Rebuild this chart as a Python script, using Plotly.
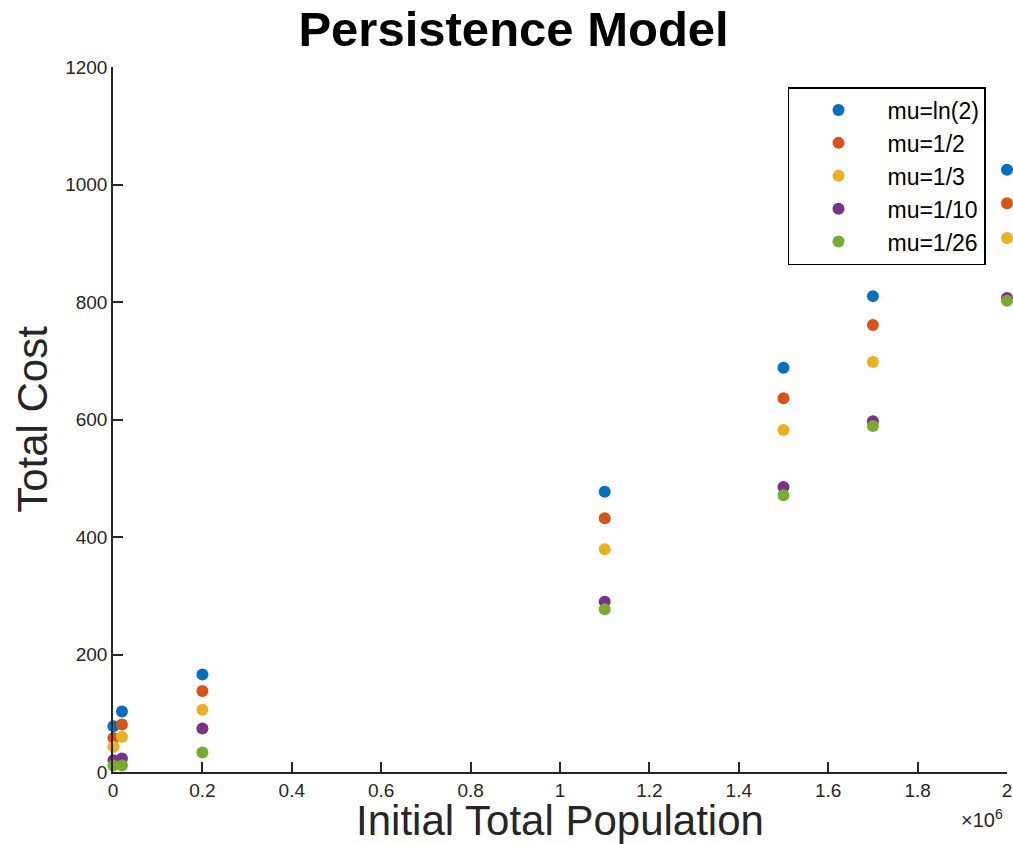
import plotly.graph_objects as go

population = [1000, 20000, 200000, 1100000, 1500000, 1700000, 2000000]
series_names = ["mu=ln(2)", "mu=1/2", "mu=1/3", "mu=1/10", "mu=1/26"]
cost_ln2 = [78, 103, 166, 477, 688, 810, 1025]
cost_half = [58, 81, 138, 432, 636, 761, 968]
cost_third = [43, 60, 106, 379, 582, 698, 909]
cost_tenth = [20, 23, 74, 290, 485, 597, 807]
cost_26th = [11, 11, 33, 277, 471, 589, 802]
colors = ["#0072BD", "#D95319", "#EDB120", "#7E2F8E", "#77AC30"]

x_tickvals = [0, 200000, 400000, 600000, 800000, 1000000, 1200000, 1400000, 1600000, 1800000, 2000000]
x_ticktext = ["0", "0.2", "0.4", "0.6", "0.8", "1", "1.2", "1.4", "1.6", "1.8", "2"]
y_tickvals = [0, 200, 400, 600, 800, 1000, 1200]

font_family = "Liberation Sans, Arial, Helvetica, sans-serif"
axis_color = "#262626"

fig = go.Figure()
for name, vals, col in zip(series_names, [cost_ln2, cost_half, cost_third, cost_tenth, cost_26th], colors):
    fig.add_trace(go.Scatter(
        x=population, y=vals, mode="markers", name=name, cliponaxis=False,
        marker=dict(color=col, size=12, line=dict(width=0)),
    ))

fig.update_layout(
    width=1013, height=844,
    margin=dict(l=113, r=6, t=67, b=72, autoexpand=False),
    paper_bgcolor="white", plot_bgcolor="white",
    font=dict(family=font_family, color=axis_color),
    title=dict(text="<b>Persistence Model</b>", x=0.507, xanchor="center",
               xref="container", yref="container", y=0.966, yanchor="middle",
               font=dict(size=49, color="black", family=font_family)),
    showlegend=True,
    legend=dict(
        x=0.9765, xanchor="right", y=0.9716, yanchor="top",
        bgcolor="white", bordercolor="black", borderwidth=1.5,
        font=dict(size=23, color="black", family=font_family),
        itemsizing="constant", tracegroupgap=0, itemwidth=88,
    ),
)

fig.update_xaxes(
    range=[0, 2000000], tickvals=x_tickvals, ticktext=x_ticktext,
    showgrid=False, zeroline=False, showline=True, linecolor=axis_color, linewidth=1.5,
    ticks="inside", ticklen=10, tickwidth=1.5, tickcolor=axis_color,
    tickfont=dict(size=19, color=axis_color),
    title=dict(text="Initial Total Population", font=dict(size=42, color=axis_color), standoff=0),
)
fig.update_yaxes(
    range=[0, 1200], tickvals=y_tickvals,
    showgrid=False, zeroline=False, showline=True, linecolor=axis_color, linewidth=1.5,
    ticks="inside", ticklen=10, tickwidth=1.5, tickcolor=axis_color,
    tickfont=dict(size=19, color=axis_color),
    title=dict(text="Total Cost", font=dict(size=42, color=axis_color), standoff=4),
)

fig.add_annotation(
    text="×10<sup>6</sup>", xref="paper", yref="paper", x=0.998, y=-0.045,
    xanchor="right", yanchor="top", showarrow=False,
    font=dict(size=20, color=axis_color, family=font_family),
)

fig.write_html("out.html", config={"displayModeBar": False},
               post_script="document.body.style.margin='0';")
